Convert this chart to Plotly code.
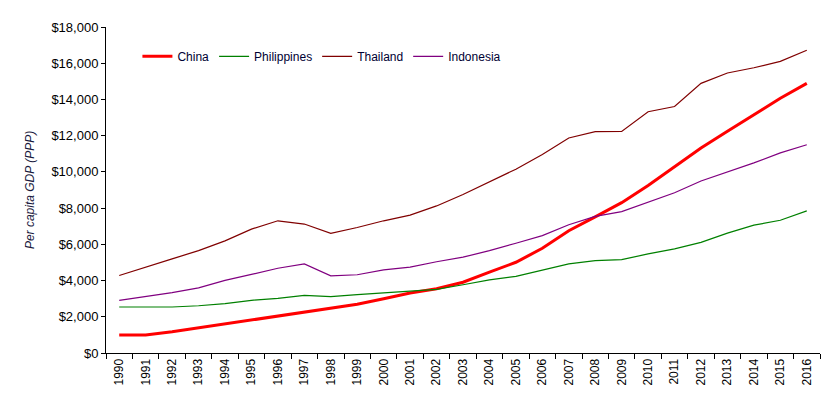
import plotly.graph_objects as go

years = [str(y) for y in range(1990, 2017)]

china = [990, 990, 1170, 1390, 1590, 1810, 2050, 2250, 2450, 2690, 3000, 3310, 3550,
         3910, 4460, 5010, 5780, 6750, 7520, 8300, 9250, 10280, 11320, 12240, 13150, 14070, 14890]
philippines = [2540, 2540, 2540, 2610, 2730, 2910, 3020, 3180, 3110, 3220, 3330, 3400, 3510,
               3770, 4040, 4230, 4560, 4920, 5100, 5160, 5470, 5750, 6110, 6620, 7060, 7330, 7850]
thailand = [4280, 4720, 5200, 5650, 6190, 6840, 7300, 7120, 6610, 6930, 7300, 7610, 8120,
            8750, 9450, 10150, 10960, 11870, 12220, 12230, 13320, 13610, 14890, 15460, 15750, 16100, 16720]
indonesia = [2910, 3130, 3330, 3600, 4010, 4340, 4680, 4920, 4260, 4320, 4590, 4740, 5040,
             5290, 5650, 6060, 6480, 7080, 7540, 7810, 8340, 8850, 9500, 9990, 10500, 11050, 11500]

y_ticks = list(range(0, 18001, 2000))
y_labels = ["${:,}".format(v) for v in y_ticks]

series = [
    ("China", china, "#FF0000", 3),
    ("Philippines", philippines, "#008000", 1.2),
    ("Thailand", thailand, "#800000", 1.2),
    ("Indonesia", indonesia, "#800080", 1.2),
]

fig = go.Figure()
for name, vals, color, w in series:
    fig.add_trace(go.Scatter(x=years, y=vals, name=name, mode="lines",
                             line=dict(color=color, width=w)))

fig.update_layout(
    width=827, height=390,
    margin=dict(l=98, r=15, t=17, b=45),
    paper_bgcolor="white", plot_bgcolor="white",
    font=dict(family="Liberation Sans, Arial, sans-serif", size=12, color="black"),
    showlegend=True,
    legend=dict(orientation="h", x=0.044, y=0.91, xanchor="left", yanchor="middle",
                bgcolor="rgba(0,0,0,0)", font=dict(size=12, color="#000033"),
                itemwidth=30, tracegroupgap=0),
)
fig.update_xaxes(
    type="category", tickangle=-90, showline=True, linecolor="black", linewidth=1,
    ticks="outside", ticklen=5, tickcolor="black", tickson="boundaries",
    showgrid=False, tickfont=dict(size=12, color="black"), range=[-0.5, 26.5],
)
fig.update_yaxes(
    range=[0, 18000], tickvals=y_ticks, ticktext=y_labels, showline=True,
    linecolor="black", linewidth=1, ticks="outside", ticklen=4, tickcolor="black",
    showgrid=False, zeroline=False, tickfont=dict(size=13, color="black"),
    title=dict(text="<i>Per capita GDP (PPP)</i>", font=dict(size=12, color="#1a1a40"), standoff=14),
)

fig.write_html("out.html")
